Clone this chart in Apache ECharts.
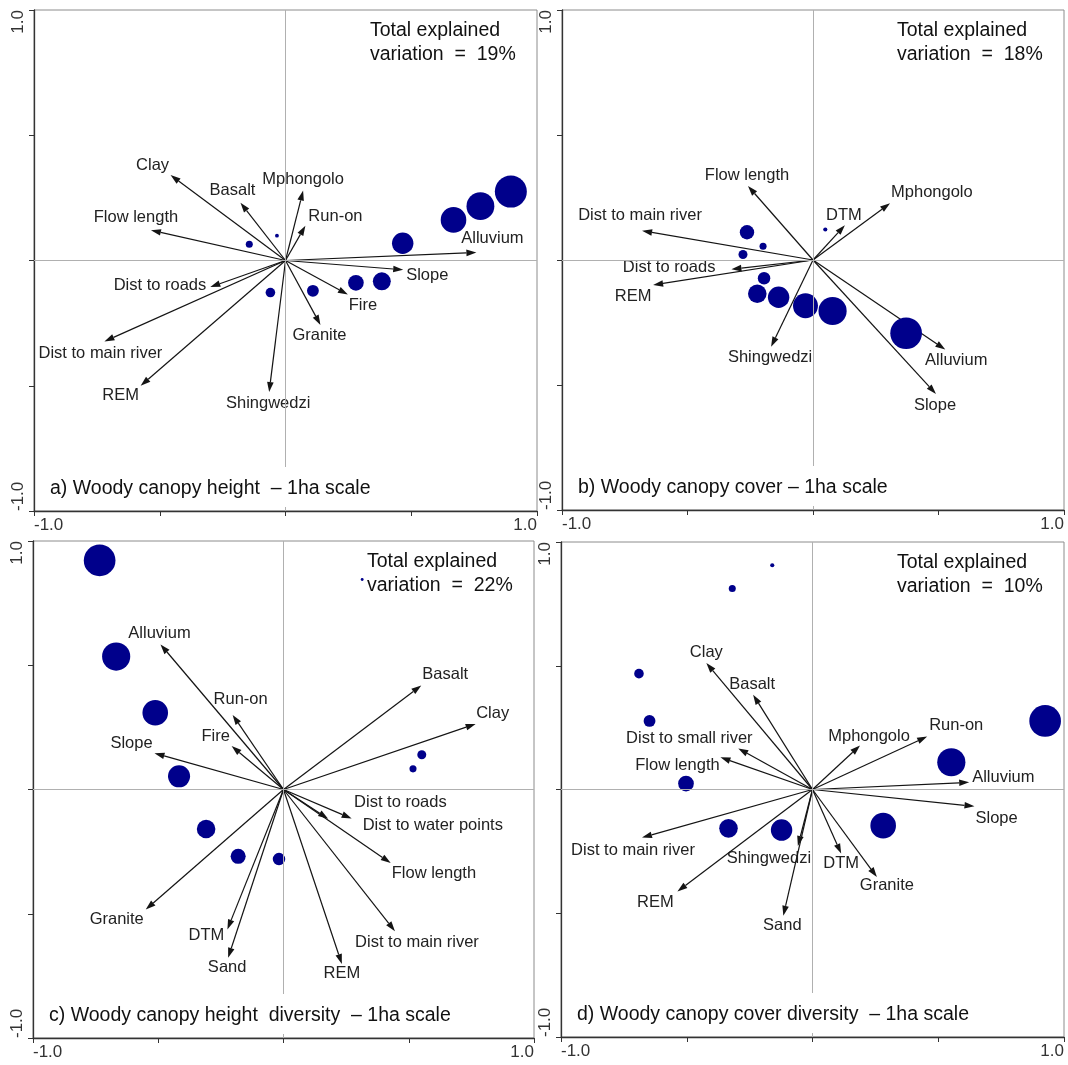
<!DOCTYPE html>
<html>
<head>
<meta charset="utf-8">
<title>RDA biplots – woody canopy structure, 1ha scale</title>
<script src="https://cdn.jsdelivr.net/npm/echarts@6/dist/echarts.min.js"></script>
<style>
  html, body { margin: 0; padding: 0; background: #fff; }
  #chart { width: 1068px; height: 1065px; }
</style>
</head>
<body>
<div id="chart"></div>
<script>
// ---- Axis ticks (both axes, every panel) ----
const tickValues = [-1, -0.5, 0, 0.5, 1];
const tickLabels = { '-1': '-1.0', '1': '1.0' };

// ---- Panel titles and explained variation (%) ----
const panelTitles = [
  'a) Woody canopy height  \u2013 1ha scale',
  'b) Woody canopy cover \u2013 1ha scale',
  'c) Woody canopy height  diversity  \u2013 1ha scale',
  'd) Woody canopy cover diversity  \u2013 1ha scale'
];
const explainedVariation = [19, 18, 22, 10];

// ---- a) Woody canopy height: environmental vectors ----
const aVarNames = ['Clay', 'Basalt', 'Mphongolo', 'Run-on', 'Flow length', 'Alluvium', 'Slope',
  'Fire', 'Granite', 'Shingwedzi', 'REM', 'Dist to main river', 'Dist to roads'];
const aVarX = [-0.457, -0.179, 0.070, 0.079, -0.535, 0.759, 0.468, 0.248, 0.139, -0.065, -0.576, -0.720, -0.299];
const aVarY = [0.341, 0.231, 0.279, 0.139, 0.121, 0.032, -0.037, -0.136, -0.257, -0.525, -0.500, -0.323, -0.106];
// a) sample classes (axis scores and relative weight)
const aSiteX = [0.896, 0.775, 0.668, 0.466, 0.383, 0.280, 0.109, -0.060, -0.144, -0.034];
const aSiteY = [0.275, 0.217, 0.162, 0.069, -0.083, -0.089, -0.121, -0.128, 0.065, 0.099];
const aSiteW = [1.00, 0.87, 0.80, 0.67, 0.56, 0.49, 0.37, 0.30, 0.22, 0.12];

// ---- b) Woody canopy cover ----
const bVarNames = ['Flow length', 'Mphongolo', 'DTM', 'Dist to main river', 'Dist to roads', 'REM',
  'Shingwedzi', 'Alluvium', 'Slope'];
const bVarX = [-0.259, 0.307, 0.127, -0.681, -0.325, -0.637, -0.167, 0.527, 0.490];
const bVarY = [0.296, 0.227, 0.139, 0.117, -0.037, -0.100, -0.347, -0.358, -0.536];
const bSiteX = [-0.263, -0.199, -0.279, -0.195, -0.222, -0.137, -0.030, 0.078, 0.371, 0.049];
const bSiteY = [0.111, 0.055, 0.022, -0.073, -0.135, -0.149, -0.183, -0.204, -0.293, 0.122];
const bSiteW = [0.45, 0.22, 0.28, 0.39, 0.58, 0.67, 0.78, 0.88, 0.99, 0.13];

// ---- c) Woody canopy height diversity ----
const cVarNames = ['Alluvium', 'Run-on', 'Fire', 'Slope', 'Basalt', 'Clay', 'Dist to roads',
  'Dist to water points', 'Flow length', 'Dist to main river', 'REM', 'Sand', 'DTM', 'Granite'];
const cVarX = [-0.491, -0.203, -0.207, -0.515, 0.550, 0.767, 0.178, 0.272, 0.428, 0.445, 0.233, -0.221, -0.224, -0.550];
const cVarY = [0.584, 0.300, 0.175, 0.146, 0.419, 0.264, -0.118, -0.117, -0.296, -0.570, -0.702, -0.677, -0.563, -0.483];
const cSiteX = [-0.734, -0.668, -0.512, -0.417, -0.309, -0.181, -0.018, 0.552, 0.517, 0.314];
const cSiteY = [0.922, 0.535, 0.309, 0.053, -0.159, -0.269, -0.280, 0.140, 0.083, 0.845];
const cSiteW = [0.99, 0.88, 0.80, 0.69, 0.58, 0.47, 0.39, 0.28, 0.22, 0.09];

// ---- d) Woody canopy cover diversity ----
const dVarNames = ['Clay', 'Basalt', 'Dist to small river', 'Flow length', 'Mphongolo', 'Run-on',
  'Alluvium', 'Slope', 'Granite', 'DTM', 'Shingwedzi', 'Sand', 'REM', 'Dist to main river'];
const dVarX = [-0.422, -0.236, -0.295, -0.366, 0.189, 0.456, 0.623, 0.644, 0.256, 0.114, -0.058, -0.116, -0.537, -0.678];
const dVarY = [0.511, 0.383, 0.166, 0.130, 0.178, 0.214, 0.029, -0.068, -0.354, -0.259, -0.228, -0.510, -0.412, -0.194];
const dSiteX = [-0.160, -0.319, -0.690, -0.648, -0.503, -0.334, -0.123, 0.281, 0.552, 0.925];
const dSiteY = [0.906, 0.812, 0.468, 0.277, 0.024, -0.157, -0.164, -0.146, 0.110, 0.277];
const dSiteW = [0.13, 0.22, 0.30, 0.37, 0.49, 0.58, 0.67, 0.80, 0.88, 0.99];

// ---- Layout: plot frames and label placement (pixel offsets from arrow tips) ----
const frames = [
  { left: 34, top: 10, width: 503, height: 501 },
  { left: 562, top: 10, width: 502, height: 500 },
  { left: 33, top: 541, width: 501, height: 497 },
  { left: 561, top: 542, width: 503, height: 495 }
];
const aLabelPlace = [[-18,-10,'center'],[-8,-12,'center'],[0,-11,'center'],[3,-9,'left'],[-15,-13,'center'],
  [16,-14,'center'],[3,6,'left'],[15,11,'center'],[-1,11,'center'],[-1,11,'center'],[-20,10,'center'],
  [-4,12,'center'],[-4,-2,'right']];
const bLabelPlace = [[-1,-11,'center'],[1,-11,'left'],[-1,-10,'center'],[-2,-15,'center'],[-16,-2,'right'],
  [-20,11,'center'],[-1,11,'center'],[11,11,'center'],[-1,11,'center']];
const cLabelPlace = [[-1,-11,'center'],[8,-15,'center'],[-16,-10,'center'],[-23,-10,'center'],[24,-11,'center'],
  [17,-10,'center'],[26,-16,'left'],[11,7,'left'],[1,10,'left'],[22,11,'center'],[0,10,'center'],
  [-1,10,'center'],[-21,6,'center'],[-29,10,'center']];
const dLabelPlace = [[0,-11,'center'],[-1,-10,'center'],[-49,-10,'center'],[-43,8,'center'],[9,-9,'center'],
  [2,-11,'left'],[3,-5,'left'],[1,12,'left'],[10,8,'center'],[0,10,'center'],[-29,13,'center'],
  [-1,10,'center'],[-22,11,'center'],[-9,13,'center']];

const FONT = '"Liberation Sans", Arial, Helvetica, sans-serif';
const SITE_COLOR = '#00008b';
const MAX_SITE_DIAM = 32;

const panels = [
  { names: aVarNames, vx: aVarX, vy: aVarY, sx: aSiteX, sy: aSiteY, sw: aSiteW, place: aLabelPlace },
  { names: bVarNames, vx: bVarX, vy: bVarY, sx: bSiteX, sy: bSiteY, sw: bSiteW, place: bLabelPlace },
  { names: cVarNames, vx: cVarX, vy: cVarY, sx: cSiteX, sy: cSiteY, sw: cSiteW, place: cLabelPlace },
  { names: dVarNames, vx: dVarX, vy: dVarY, sx: dSiteX, sy: dSiteY, sw: dSiteW, place: dLabelPlace }
];

function tickFormatter(v) {
  const key = String(Math.round(v * 10) / 10);
  return tickLabels[key] || '';
}

const grids = [], xAxes = [], yAxes = [], series = [], graphics = [];

panels.forEach(function (p, g) {
  const f = frames[g];
  grids.push({
    left: f.left, top: f.top, width: f.width, height: f.height,
    show: true, borderColor: '#8c8c8c', borderWidth: 1, backgroundColor: '#fff'
  });
  const axisCommon = {
    gridIndex: g, type: 'value', min: tickValues[0], max: tickValues[tickValues.length - 1],
    interval: tickValues[1] - tickValues[0],
    axisLine: { show: true, onZero: false, lineStyle: { color: '#333', width: 1.3 } },
    axisTick: { show: true, inside: false, length: 5, lineStyle: { color: '#333', width: 1 } },
    splitLine: { show: false },
    axisLabel: {
      show: true, formatter: tickFormatter, fontFamily: FONT, fontSize: 17, color: '#333',
      showMinLabel: true, showMaxLabel: true, hideOverlap: false,
      alignMinLabel: 'left', alignMaxLabel: 'right'
    }
  };
  xAxes.push(Object.assign({}, axisCommon, {
    position: 'bottom',
    axisLabel: Object.assign({}, axisCommon.axisLabel, { margin: 6 })
  }));
  yAxes.push(Object.assign({}, axisCommon, {
    position: 'left',
    axisLabel: Object.assign({}, axisCommon.axisLabel, { rotate: 90, margin: 7 })
  }));

  // zero reference lines
  series.push({
    type: 'scatter', xAxisIndex: g, yAxisIndex: g, data: [[0, 0]], symbolSize: 0, silent: true, z: 1,
    markLine: {
      silent: true, symbol: 'none', label: { show: false }, animation: false,
      lineStyle: { color: '#b0b0b0', width: 1, type: 'solid' },
      data: [{ xAxis: 0 }, { yAxis: 0 }]
    }
  });

  // environmental vectors with arrowheads and names
  series.push({
    type: 'custom', xAxisIndex: g, yAxisIndex: g, coordinateSystem: 'cartesian2d', z: 3,
    silent: true, animation: false,
    data: p.names.map(function (n, i) { return [p.vx[i], p.vy[i], i]; }),
    encode: { x: 0, y: 1 },
    renderItem: function (params, api) {
      const o = api.coord([0, 0]);
      const t = api.coord([api.value(0), api.value(1)]);
      const i = api.value(2);
      const ang = Math.atan2(t[1] - o[1], t[0] - o[0]);
      const L = 10, W = 3.3;
      const bx = t[0] - L * Math.cos(ang), by = t[1] - L * Math.sin(ang);
      const nx = -Math.sin(ang), ny = Math.cos(ang);
      const pl = p.place[i];
      return {
        type: 'group',
        children: [
          { type: 'line', shape: { x1: o[0], y1: o[1], x2: bx, y2: by },
            style: { stroke: '#141414', lineWidth: 1.2 } },
          { type: 'polygon', shape: { points: [[t[0], t[1]], [bx + nx * W, by + ny * W], [bx - nx * W, by - ny * W]] },
            style: { fill: '#141414' } },
          { type: 'text', x: t[0] + pl[0], y: t[1] + pl[1],
            style: { text: p.names[i], align: pl[2], verticalAlign: 'middle',
              fontFamily: FONT, fontSize: 16.5, fill: '#222' } }
        ]
      };
    }
  });

  // sample scores, circle size by weight
  series.push({
    type: 'scatter', xAxisIndex: g, yAxisIndex: g, z: 4, silent: true, animation: false,
    data: p.sx.map(function (x, i) { return [x, p.sy[i], p.sw[i]]; }),
    symbol: 'circle',
    symbolSize: function (v) { return v[2] * MAX_SITE_DIAM; },
    itemStyle: { color: SITE_COLOR, opacity: 1 }
  });

  // explained variation (top right)
  graphics.push({
    type: 'text', left: f.left + f.width - 167, top: f.top + 9, z: 10,
    style: {
      text: 'Total explained\nvariation  =  ' + explainedVariation[g] + '%',
      fontFamily: FONT, fontSize: 19.5, lineHeight: 23.5, fill: '#111'
    }
  });
  // panel title (bottom left) on a white plate
  graphics.push({
    type: 'text', left: f.left + 10, top: f.top + f.height - 44, z: 10,
    style: {
      text: panelTitles[g], fontFamily: FONT, fontSize: 19.5, fill: '#111',
      backgroundColor: '#fff', padding: [12, 6, 8, 6]
    }
  });
});

const chart = echarts.init(document.getElementById('chart'), null, { renderer: 'canvas' });
chart.setOption({
  backgroundColor: '#fff',
  animation: false,
  grid: grids,
  xAxis: xAxes,
  yAxis: yAxes,
  series: series,
  graphic: graphics
});
</script>
</body>
</html>
